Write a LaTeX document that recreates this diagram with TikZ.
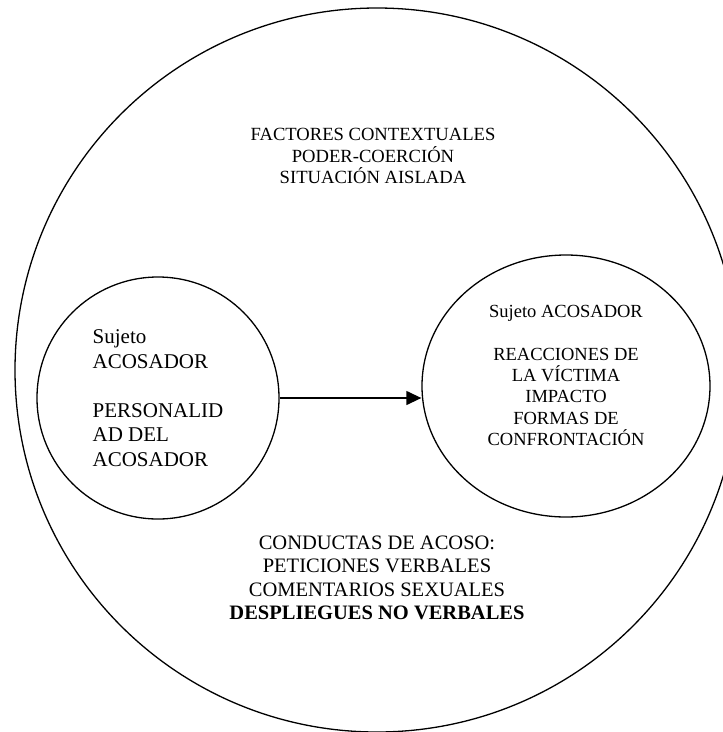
\documentclass[tikz,border=0pt]{standalone}
\usepackage{fontspec}
\setmainfont{Liberation Serif}
\usetikzlibrary{shapes.geometric, arrows.meta}
\tikzstyle{ring} = [circle, draw=black, line width=1.3pt, inner sep=0pt]
\tikzstyle{oval} = [ellipse, draw=black, line width=1.3pt, inner sep=0pt]
\tikzstyle{txt} = [align=center, inner sep=0pt]
\tikzstyle{arrow} = [line width=1.3pt, -{Triangle[length=15pt, width=14pt]}]

\begin{document}
\begin{tikzpicture}[x=1pt, y=-1pt]
        \useasboundingbox (0,0) rectangle (723,732);
        \node (ctx) [ring, minimum size=724pt] at (377,370) {};
        \node (fac) [txt, font=\fontsize{18.6}{21.3}\selectfont] at (373,156) {FACTORES CONTEXTUALES\\PODER-COERCIÓN\\SITUACIÓN AISLADA};
        \node (acos) [ring, minimum size=242pt, align=left, font=\fontsize{21}{24.5}\selectfont] at (158,398) {Sujeto\\ACOSADOR\\[24.5pt]PERSONALID\\AD DEL\\ACOSADOR};
        \node (vic) [oval, minimum width=288pt, minimum height=262pt, align=center, font=\fontsize{18.5}{21.3}\selectfont] at (566,386) {Sujeto ACOSADOR\\[21.3pt]REACCIONES DE\\LA VÍCTIMA\\IMPACTO\\FORMAS DE\\CONFRONTACIÓN\\\mbox{}};
        \draw [arrow] (acos.east) -- (acos.east -| vic.west);
        
        \node (cond) [txt, font=\fontsize{20.5}{23.5}\selectfont] at (377,578) {CONDUCTAS DE ACOSO:\\PETICIONES VERBALES\\COMENTARIOS SEXUALES\\\textbf{DESPLIEGUES NO VERBALES}};
\end{tikzpicture}
\end{document}
